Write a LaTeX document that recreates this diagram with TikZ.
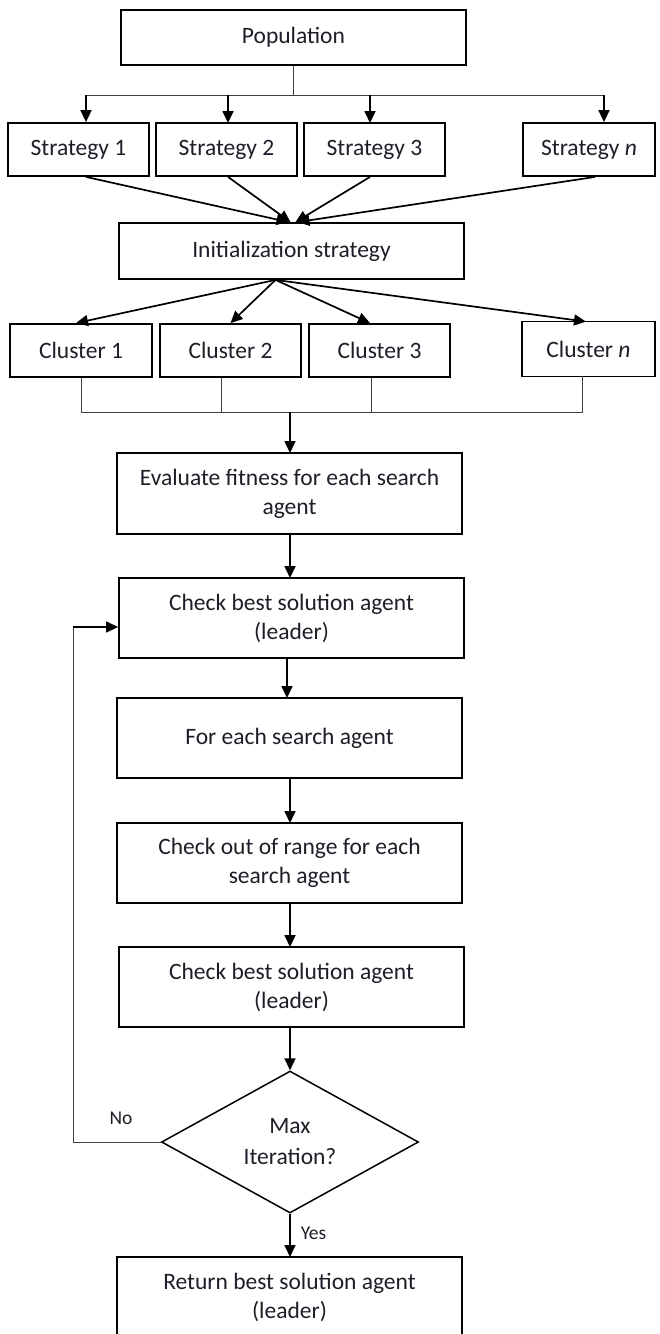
\documentclass[tikz,border=0pt]{standalone}
\usepackage{fontspec}
\setmainfont{Carlito}
\usetikzlibrary{arrows.meta,shapes.geometric,calc}
\definecolor{textc}{HTML}{1E1E28}
\begin{document}
\begin{tikzpicture}[x=1pt,y=-1pt,
  box/.style={draw=black,line width=1.8pt,inner sep=0pt,align=center,
    font=\fontsize{23.5}{29}\selectfont,text=textc},
  bigbox/.style={box,minimum width=345pt,minimum height=80pt},
  smallbox/.style={box,minimum width=141pt,minimum height=53pt},
  arr/.style={line width=1.7pt,-{Triangle[length=12pt,width=11pt]}},
  thin/.style={line width=0.9pt,draw=black!75},
  lbl/.style={font=\fontsize{19.5}{23}\selectfont,text=textc,inner sep=0pt}]
\clip (0,0) rectangle (659,1334);
\fill[white] (0,0) rectangle (659,1334);

% top
\node[box,minimum width=345pt,minimum height=55pt] (pop) at (293.5,37.5) {Population};
\node[smallbox] (s1) at (78.5,149.5) {Strategy 1};
\node[smallbox] (s2) at (226.5,149.5) {Strategy 2};
\node[smallbox] (s3) at (374.5,149.5) {Strategy 3};
\node[smallbox,minimum width=132pt] (sn) at (589,149.5) {Strategy \textit{n}};
\node[box,minimum width=345pt,minimum height=56pt] (init) at (291.5,251) {Initialization strategy};
\node[smallbox,minimum width=142pt] (c1) at (81,350.5) {Cluster 1};
\node[smallbox] (c2) at (230.5,350.5) {Cluster 2};
\node[smallbox] (c3) at (379.5,350.5) {Cluster 3};
\node[smallbox,minimum width=133pt,minimum height=55pt] (cn) at (588.5,349) {Cluster \textit{n}};

\node[bigbox,minimum height=81pt] (eval) at (289.5,493.5) {Evaluate fitness for each search\\agent};
\node[bigbox] (chk1) at (291.5,618) {Check best solution agent\\(leader)};
\node[bigbox] (fe) at (289.5,738) {For each search agent};
\node[bigbox] (oor) at (289.5,863) {Check out of range for each\\search agent};
\node[bigbox] (chk2) at (291.5,987) {Check best solution agent\\(leader)};
\node[diamond,draw=black,line width=1.5pt,minimum width=257pt,minimum height=142pt,inner sep=0pt,align=center,
  font=\fontsize{23.5}{31}\selectfont,text=textc] (dia) at (290,1142) {Max\\Iteration?};
\node[bigbox] (ret) at (289.5,1297) {Return best solution agent\\(leader)};

% population bus
\coordinate (pb) at (293,95);
\draw[thin] (pop.south -| pb) -- (pb);
\draw[thin] (86,95) coordinate (b1) -- (604,95) coordinate (b4);
\draw[arr] (b1) -- (b1 |- s1.north);
\draw[arr] (228,95) -- (228,123);
\draw[arr] (370,95) -- (370,123);
\draw[arr] (b4) -- (b4 |- sn.north);

% strategies to init
\draw[arr] ([xshift=7.5pt]s1.south) -- ([xshift=-3pt]init.north);
\draw[arr] ([xshift=1.5pt]s2.south) -- ([xshift=-1pt]init.north);
\draw[arr] ([xshift=-4.5pt]s3.south) -- ([xshift=4pt]init.north);
\draw[arr] ([xshift=6pt]sn.south) -- ([xshift=6pt]init.north);

% init to clusters
\coordinate (io) at ([xshift=-16pt]init.south);
\draw[arr] (io) -- ([xshift=-5pt]c1.north);
\draw[arr] (io) -- (c2.north);
\draw[arr] (io) -- ([xshift=-9.5pt]c3.north);
\draw[arr] (io) -- ([xshift=-2.5pt,yshift=-1pt]cn.north);

% cluster bus
\draw[thin] (c1.south) -- (81,412) -- (582,412) -- (582,376);
\draw[thin] ([xshift=-9.5pt]c2.south) -- (221,412);
\draw[thin] ([xshift=-8.5pt]c3.south) -- (371,412);
\draw[arr] (290,412) -- (290,453);

% main chain
\draw[arr] (290,534) -- (290,578);
\draw[arr] (287,658) -- (287,698);
\draw[arr] (290,778) -- (290,823);
\draw[arr] (290,903) -- (290,947);
\draw[arr] (290,1027) -- (dia.north);
\draw[arr] (dia.south) -- (290,1257) node[lbl,pos=0.45,right=10pt] {Yes};

% loop
\draw[thin] (dia.west) -- (73,1142) -- (73,627);
\draw[arr,line width=1.3pt] (73,627) -- (chk1.west |- 0,627);
\node[lbl] (no) at (121,1118) {No};
\end{tikzpicture}
\end{document}
